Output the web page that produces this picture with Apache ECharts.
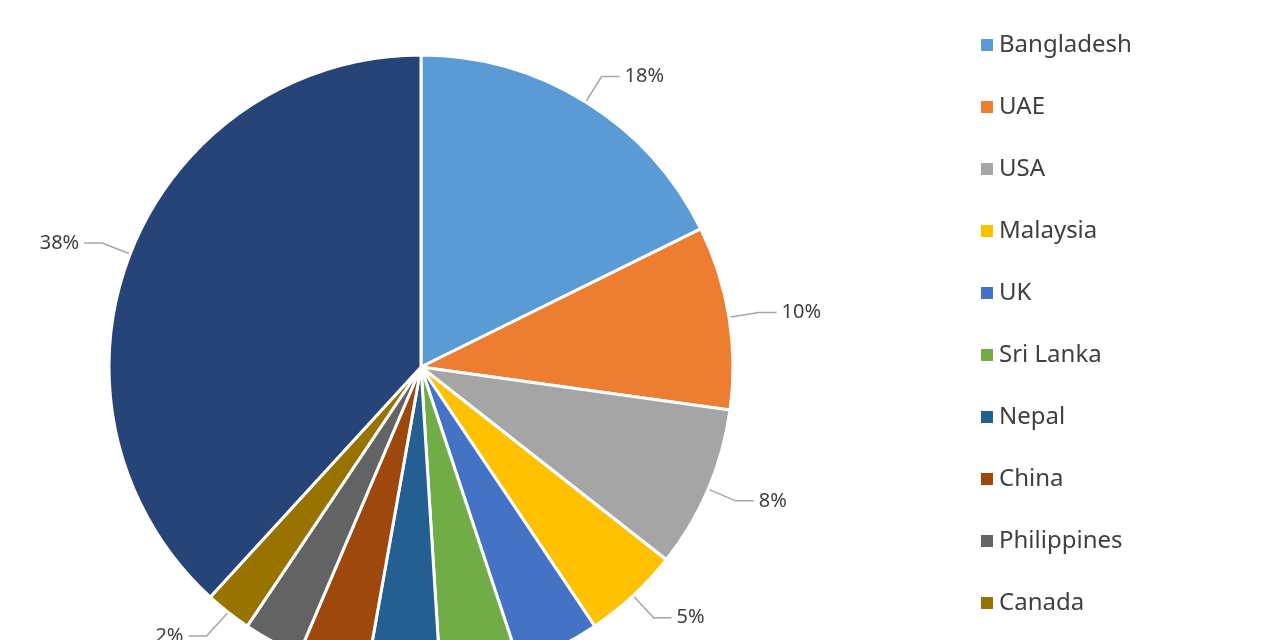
<!DOCTYPE html>
<html><head><meta charset="utf-8">
<script src="https://cdn.jsdelivr.net/npm/echarts@6/dist/echarts.min.js"></script>
<style>html,body{margin:0;padding:0;background:#fff;overflow:hidden}#c{width:1280px;height:760px}</style>
</head><body><div id="c"></div>
<script>
const categories = ["Bangladesh","UAE","USA","Malaysia","UK","Sri Lanka","Nepal","China","Philippines","Canada","Others"];
const values = [17.7, 9.5, 8.4, 5.0, 4.3, 4.1, 3.8, 3.6, 3.0, 2.4, 38.2];
const colors = ["#5B9BD5","#ED7D31","#A5A5A5","#FFC000","#4472C4","#70AD47","#255E91","#9E480E","#636363","#997300","#264478"];
const chart = echarts.init(document.getElementById('c'));
chart.setOption({
  animation:false,
  color: colors,
  legend:{orient:'vertical',left:974,top:28,height:740,itemWidth:14,itemHeight:14,itemGap:38,icon:'rect',
    textStyle:{fontSize:24,lineHeight:24,color:'#404040',fontFamily:'Noto Sans'},data:categories},
  series:[{type:'pie',center:[421,367],radius:[0,312],startAngle:90,clockwise:true,
    data:categories.map((n,i)=>({name:n,value:values[i]})),
    itemStyle:{borderColor:'#fff',borderWidth:3},
    label:{formatter:p=>Math.round(p.value)+'%',fontSize:20,color:'#404040',fontFamily:'Noto Sans'},
    labelLine:{length:30,length2:18,lineStyle:{color:'#A6A6A6',width:1.5}}
  }]
});
</script></body></html>
